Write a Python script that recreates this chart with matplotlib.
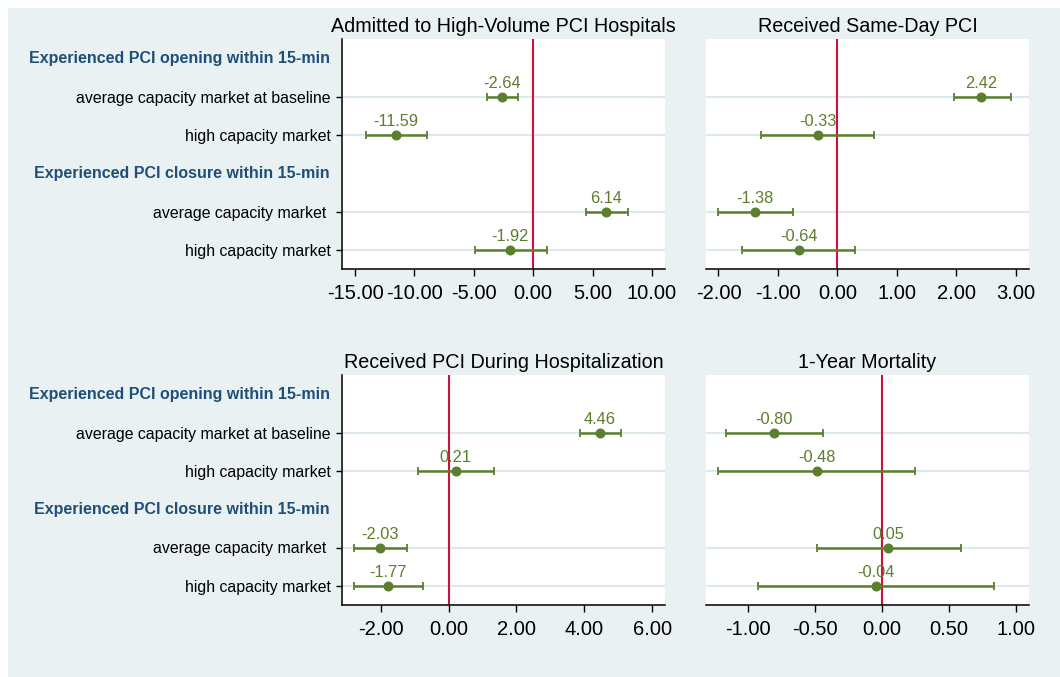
import matplotlib.pyplot as plt
from matplotlib.patches import Rectangle
import matplotlib.transforms as mtransforms

plt.rcParams['font.family'] = ['Liberation Sans', 'DejaVu Sans']
plt.rcParams['axes.unicode_minus'] = False

# rows of every panel (y = 1, 2, 4, 5); group headings sit at y = 0 and 3
row_labels = ['average capacity market at baseline', 'high capacity market',
              'average capacity market ', 'high capacity market']
row_pos = [1, 2, 4, 5]
headings = ['Experienced PCI opening within 15-min',
            'Experienced PCI closure within 15-min']
heading_pos = [0, 3]

titles = ['Admitted to High-Volume PCI Hospitals', 'Received Same-Day PCI',
          'Received PCI During Hospitalization', '1-Year Mortality']

admitted_est = [-2.64, -11.59, 6.14, -1.92]
admitted_lo = [-3.90, -14.06, 4.44, -4.92]
admitted_hi = [-1.27, -8.98, 7.97, 1.17]

sameday_est = [2.42, -0.33, -1.38, -0.64]
sameday_lo = [1.96, -1.29, -2.00, -1.60]
sameday_hi = [2.91, 0.62, -0.75, 0.30]

during_est = [4.46, 0.21, -2.03, -1.77]
during_lo = [3.87, -0.91, -2.79, -2.78]
during_hi = [5.09, 1.35, -1.23, -0.76]

mort_est = [-0.80, -0.48, 0.05, -0.04]
mort_lo = [-1.16, -1.22, -0.48, -0.92]
mort_hi = [-0.44, 0.25, 0.59, 0.84]

ticks = [[-15, -10, -5, 0, 5, 10], [-2, -1, 0, 1, 2, 3],
         [-2, 0, 2, 4, 6], [-1, -0.5, 0, 0.5, 1]]
xlims = [(-16.1, 11.1), (-2.21, 3.22), (-3.14, 6.38), (-1.31, 1.10)]

green = '#5B7F2E'
red = '#D0103A'
navy = '#1F4E79'
bg = '#EAF1F3'
grid_col = '#DDE9EE'

fig = plt.figure(figsize=(10.6, 6.77), dpi=100)
fig.patch.set_facecolor('white')

# light background panel behind everything
bg_ax = fig.add_axes([0, 0, 1, 1], zorder=-10)
bg_ax.axis('off')
bg_ax.add_patch(Rectangle((8 / 1060, 0), 1, 1 - 8 / 677, transform=bg_ax.transAxes,
                          facecolor=bg, edgecolor='none'))

W, H = 323 / 1060, 230 / 677
boxes = [(342 / 1060, 1 - 269 / 677), (706 / 1060, 1 - 269 / 677),
         (342 / 1060, 1 - 605 / 677), (706 / 1060, 1 - 605 / 677)]
data = [(admitted_est, admitted_lo, admitted_hi), (sameday_est, sameday_lo, sameday_hi),
        (during_est, during_lo, during_hi), (mort_est, mort_lo, mort_hi)]

for i, (est, lo, hi) in enumerate(data):
    ax = fig.add_axes([boxes[i][0], boxes[i][1], W, H])
    ax.set_facecolor('white')
    ax.set_ylim(5.5, -0.5)
    ax.set_xlim(*xlims[i])

    for y in row_pos:
        ax.axhline(y, color=grid_col, lw=1.5, zorder=1)
    ax.axvline(0, color=red, lw=1.5, zorder=2)

    xerr = [[e - l for e, l in zip(est, lo)], [h - e for e, h in zip(est, hi)]]
    ax.errorbar(est, row_pos, xerr=xerr, fmt='o', color=green, ms=6.2,
                elinewidth=1.8, capsize=3, capthick=1.3, zorder=3)
    for e, y in zip(est, row_pos):
        ax.annotate(f'{e:.2f}', (e, y), xytext=(0, 4), textcoords='offset points',
                    ha='center', va='bottom', color=green, fontsize=11.8, zorder=4)

    ax.set_xticks(ticks[i])
    ax.set_xticklabels([f'{t:.2f}' for t in ticks[i]])
    ax.tick_params(axis='x', labelsize=14.5, length=5, width=1, pad=5.5)
    ax.set_title(titles[i], fontsize=14.2, pad=5)

    for s in ['top', 'right']:
        ax.spines[s].set_visible(False)
    ax.spines['bottom'].set_linewidth(1.1)

    if i % 2 == 0:
        ax.set_yticks(row_pos)
        ax.set_yticklabels(row_labels)
        ax.tick_params(axis='y', labelsize=11.4, length=4, width=1, pad=4)
        ax.spines['left'].set_linewidth(1.1)
        trans = mtransforms.blended_transform_factory(ax.transAxes, ax.transData)
        for h, y in zip(headings, heading_pos):
            ax.annotate(h, (0, y), xycoords=trans, xytext=(-8.6, 0),
                        textcoords='offset points', ha='right', va='center',
                        fontsize=11.5, fontweight='bold', color=navy)
    else:
        ax.set_yticks([])
        ax.spines['left'].set_visible(False)

fig.savefig('out.png', dpi=100, facecolor='white')
